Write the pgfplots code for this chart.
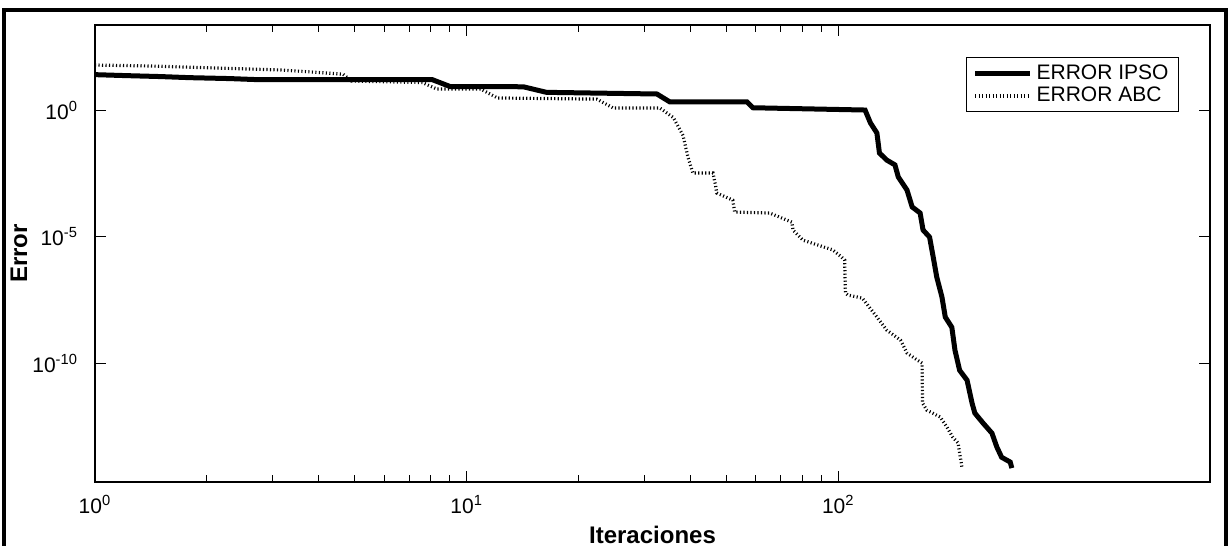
\documentclass[border=0pt]{standalone}
\usepackage{fontspec}
\setmainfont{Liberation Sans}
\usepackage{pgfplots}
\pgfplotsset{compat=1.18}
\begin{document}
\begin{tikzpicture}
\begin{axis}[
 at={(47.5pt,32pt)}, anchor=south west,
 scale only axis, width=557.5pt, height=228.5pt,
 xmode=log, ymode=log,
 xmin=1, xmax=1000, ymin=2e-15, ymax=2290,
 xtick={1,10,100},
 xticklabels={10\textsuperscript{0},10\textsuperscript{1},10\textsuperscript{2}},
 ytick={1e-10,1e-5,1},
 yticklabels={10\textsuperscript{-10},10\textsuperscript{-5},10\textsuperscript{0}},
 yminorticks=false,
 tick align=inside,
 major tick length=5.5pt, minor tick length=3.5pt,
 tick style={black, line width=0.5pt},
 axis line style={line width=0.6pt},
 ticklabel style={font=\fontsize{10.5}{12}\selectfont},
 xticklabel style={yshift=-3pt},
 yticklabel style={xshift=-5pt},
 xlabel={Iteraciones}, ylabel={Error},
 label style={font=\fontsize{12}{14}\selectfont\bfseries},
 x label style={at={(axis description cs:0.5,0)}, anchor=center, yshift=-26.5pt},
 y label style={at={(axis description cs:0,0.5)}, anchor=center, yshift=38pt},
 legend style={at={(1,1)}, anchor=north east, xshift=-15.5pt, yshift=-16pt,
   draw=black, line width=0.5pt, font=\fontsize{10.5}{12}\selectfont,
   inner xsep=3pt, inner ysep=1.5pt, row sep=-1.5pt},
 legend cell align=left,
 legend image code/.code={\draw[#1] (0pt,0pt) -- (27.5pt,0pt);},
]
\addplot[black, line width=2.5pt, line join=miter] coordinates {
(1,25) (1.2,23) (1.5,21) (1.8,19) (2.3,17.5) (2.7,16) (8.07,16) (9.02,8.5)
(14.2,8.3) (16.4,5.0) (32.5,4.3) (35.2,2.1) (56.8,2.1) (58.9,1.23) (118,1.0)
(122,0.31) (127,0.123) (129,0.020) (135,0.0105) (142,6.8e-3) (145,2.24e-3)
(153,6.9e-4) (158,1.48e-4) (166,8.5e-5) (169,1.82e-5) (176,9.5e-6) (180,1.55e-6)
(184,2.5e-7) (190,4.1e-8) (194,6.6e-9) (202,2.6e-9) (206,3.2e-10) (212,5.2e-11)
(222,2.1e-11) (229,2.6e-12) (233,1.05e-12) (245,4.3e-13) (259,1.7e-13)
(267,4.8e-14) (275,1.9e-14) (290,1.23e-14) (293,7.1e-15)
};
\addlegendentry{ERROR IPSO}
\addplot[black, line width=1.6pt, dash pattern=on 0.55pt off 1.2pt] coordinates {
(1,60) (1.41,55) (3.2,38) (4.65,26) (4.9,14) (7.6,12.2) (8.3,6.8) (10.9,6.8)
(12.1,3.0) (22.4,2.7) (24.8,1.2) (33.1,1.2) (36,0.5) (38.2,0.1) (39.4,0.0138)
(40.6,3.24e-3) (46,3.24e-3) (46.6,1.29e-3) (47.1,5.25e-4) (52,2.75e-4)
(52.6,9.3e-5) (65.4,8.5e-5) (75,3.7e-5) (75.5,1.82e-5) (80.3,7.2e-6)
(96.7,2.95e-6) (102,1.55e-6) (104,1.17e-6) (104.5,5.9e-8) (106,4.9e-8)
(116,3.7e-8) (127,6.6e-9) (135,2.0e-9) (147,8.1e-10) (153,2.5e-10)
(163,1.32e-10) (168,1.0e-10) (168.5,2.6e-12) (173,1.38e-12) (188,7.4e-13)
(196,2.95e-13) (203,1.2e-13) (210,6.9e-14) (215,7.8e-15)
};
\addlegendentry{ERROR ABC}
\end{axis}
\draw[line width=1.75pt] (2pt,-5pt) -- (2pt,268pt) -- (613pt,268pt) -- (613pt,-5pt);
\pgfresetboundingbox
\path[use as bounding box] (0,0) rectangle (614pt,273pt);
\end{tikzpicture}
\end{document}
